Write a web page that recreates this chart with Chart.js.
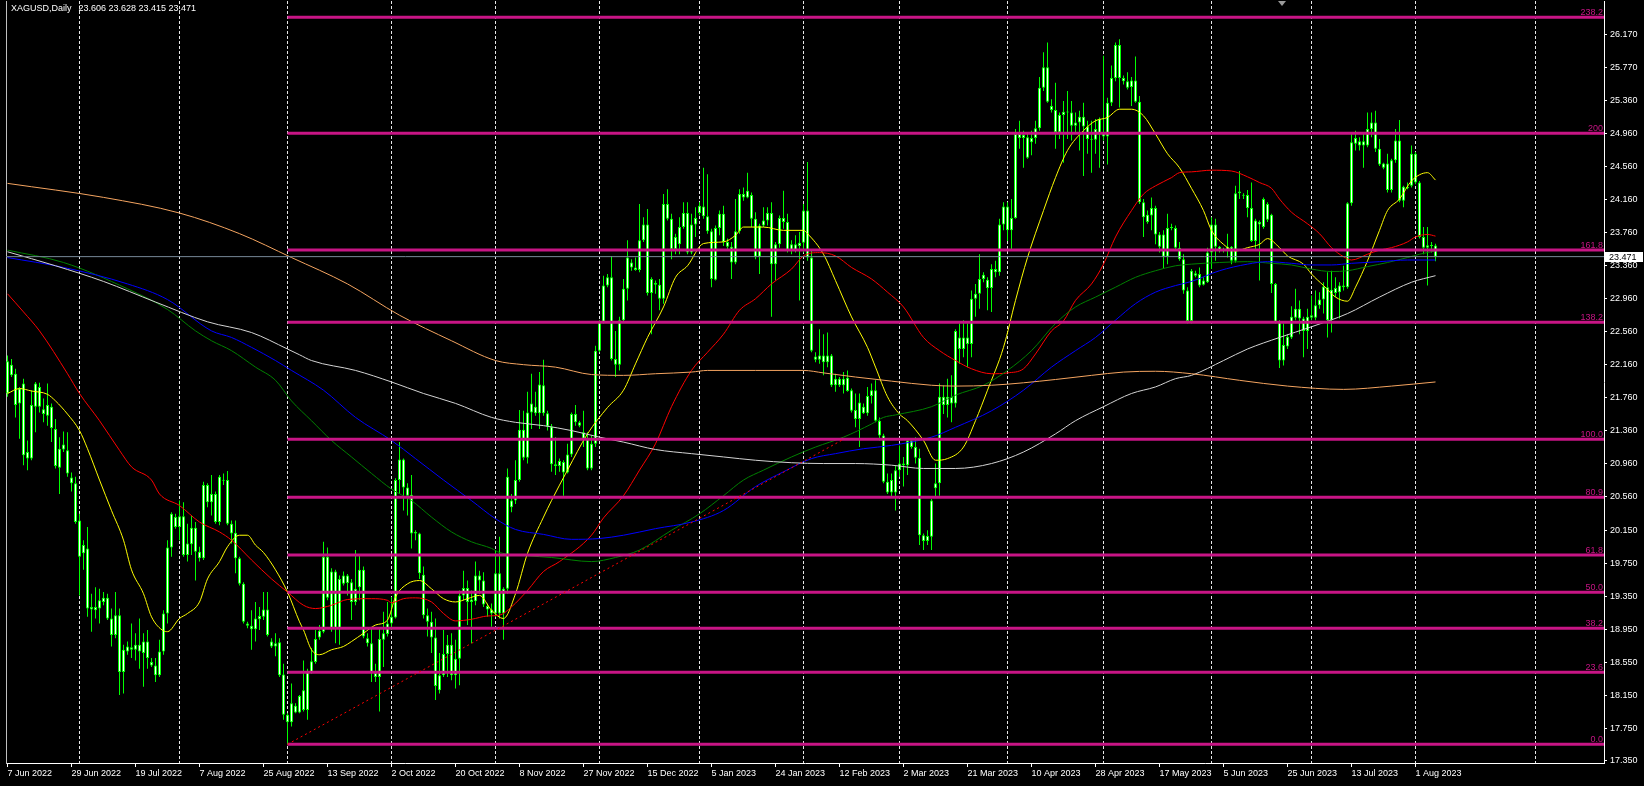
<!DOCTYPE html>
<html><head><meta charset="utf-8">
<script src="https://cdn.jsdelivr.net/npm/chart.js@4/dist/chart.umd.min.js"></script>
<style>html,body{margin:0;padding:0;background:#000;overflow:hidden}canvas{display:block}</style>
</head><body>
<canvas id="c" width="1644" height="786" style="width:1644px;height:786px"></canvas>
<script>
// ---------------- DATA ----------------
const symbolTitle = 'XAGUSD,Daily';
const lastBarOHLC = [23.606, 23.628, 23.415, 23.471];
const bidPrice = 23.471;

const opens = [21.81,22.16,22.05,21.69,21.93,21.10,21.02,21.65,21.89,21.62,
21.54,21.65,21.38,20.91,21.13,21.12,20.79,20.72,20.27,19.87,
19.93,19.22,19.18,19.20,19.28,19.33,19.08,18.88,19.12,18.43,
18.68,18.73,18.70,18.76,18.66,18.80,18.55,18.51,18.39,18.68,
19.14,19.94,20.31,20.19,20.32,19.85,19.98,20.18,19.89,19.81,
20.70,20.49,20.59,20.25,20.76,20.76,20.23,20.12,19.81,19.50,
19.02,18.99,18.95,19.07,19.10,19.19,18.80,18.74,18.79,18.40,
17.91,17.82,18.02,17.94,17.97,17.97,18.43,18.55,18.85,18.92,
19.83,19.65,18.95,19.56,19.50,19.60,19.52,19.28,19.46,19.67,
18.84,18.78,18.42,18.37,18.82,18.89,19.02,19.09,20.76,21.01,
20.67,20.58,20.11,20.11,19.61,19.12,19.04,18.85,18.21,18.39,
18.65,18.76,18.39,18.59,19.36,19.45,19.28,19.29,19.60,19.54,
19.23,19.19,19.14,19.63,19.14,19.44,20.51,20.51,20.76,21.37,
21.03,21.58,21.65,21.57,21.91,21.57,21.41,20.95,20.93,20.98,
20.85,21.07,21.56,21.46,21.34,21.26,20.90,21.20,22.33,22.68,
23.12,23.22,22.23,22.16,22.70,23.08,23.40,23.34,23.31,23.67,
23.86,23.03,23.15,23.13,22.96,24.11,23.93,23.56,23.62,23.83,
24.00,23.52,23.86,24.00,24.08,23.96,23.78,23.19,23.82,23.99,
23.65,23.59,23.40,23.78,24.23,24.19,24.22,23.93,23.47,23.85,
23.91,24.00,23.38,23.62,23.94,23.89,23.55,23.62,23.60,23.64,
24.03,23.46,22.26,22.22,22.27,22.19,22.27,21.91,21.99,21.91,
22.00,21.85,21.61,21.50,21.65,21.57,21.78,21.85,21.48,21.30,
20.74,20.61,20.61,20.88,20.96,20.94,21.24,21.16,21.03,20.09,
20.02,20.07,20.66,20.72,21.77,21.67,21.77,21.69,22.49,22.35,
22.49,22.41,22.96,23.02,23.20,23.19,23.09,23.32,23.28,23.86,
24.08,23.79,23.94,24.96,24.91,24.92,24.86,24.91,25.03,25.52,
25.77,25.30,25.25,24.98,25.19,25.23,25.22,25.06,25.10,25.17,
25.05,24.90,24.89,24.96,24.98,24.93,25.34,25.64,26.04,25.64,
25.60,25.53,25.61,25.35,24.13,23.98,23.97,24.06,23.74,23.74,
23.47,23.82,23.82,23.58,23.44,23.06,22.69,23.27,23.26,23.13,
23.16,23.52,23.86,23.59,23.55,23.54,23.59,23.42,24.24,24.22,
24.22,24.06,23.66,23.89,23.83,24.11,23.98,23.14,22.68,22.21,
22.38,22.49,22.73,22.84,22.72,22.57,22.73,22.73,22.88,22.95,
23.10,22.70,23.09,23.04,23.12,23.10,24.12,24.84,24.87,24.82,
24.82,25.02,25.10,24.78,24.60,24.60,24.28,24.64,24.88,24.15,
24.32,24.33,24.72,24.37,23.71,23.58,23.61,23.606];

const highs = [22.27,22.23,22.11,21.89,21.99,21.24,21.85,21.95,21.94,21.75,
21.93,21.69,21.50,21.28,21.35,21.34,20.85,20.80,20.35,20.03,
20.19,19.38,19.46,19.44,19.40,19.38,19.20,19.40,19.20,18.76,
18.80,19.02,18.90,19.08,18.90,18.94,18.60,18.60,18.82,19.18,
20.03,20.37,20.35,20.51,20.49,20.23,20.33,20.25,19.95,20.74,
20.72,20.82,20.62,20.82,20.84,20.87,20.27,20.27,19.83,19.52,
19.04,19.18,19.28,19.22,19.40,19.40,18.84,18.90,18.84,18.53,
17.93,18.29,18.05,18.15,18.57,18.47,18.72,18.94,19.00,20.01,
19.94,19.69,19.67,19.60,19.65,19.62,19.56,19.91,19.85,19.71,
18.90,18.96,18.53,18.96,19.16,19.28,19.34,20.78,21.22,21.02,
20.72,20.82,20.15,20.12,19.71,19.20,19.16,19.08,18.66,18.94,
18.88,18.90,18.82,19.42,19.66,19.54,19.42,19.77,19.66,19.64,
19.26,19.26,19.91,20.07,19.46,20.90,20.59,21.00,21.61,21.60,
21.83,22.05,21.83,22.07,22.22,21.60,21.44,21.28,21.02,21.00,
21.20,21.58,21.67,21.48,21.60,21.34,21.30,22.39,22.70,23.24,
23.26,23.48,22.57,22.74,23.20,23.67,23.44,23.46,24.11,23.95,
24.05,23.22,23.18,23.20,24.23,24.29,23.99,23.75,23.95,24.13,
24.13,23.99,24.07,24.13,24.55,24.47,23.81,23.85,24.03,24.09,
23.69,23.65,24.17,24.29,24.31,24.49,24.25,24.01,23.87,24.07,
24.07,24.13,23.65,23.97,24.27,23.99,23.67,23.73,23.77,24.11,
24.62,23.56,22.31,22.59,22.53,22.55,22.29,22.05,22.01,22.07,
22.09,21.87,21.81,21.81,21.69,21.89,21.93,21.97,21.52,21.32,
20.84,20.84,20.94,21.18,21.04,21.26,21.24,21.28,21.14,20.11,
20.15,20.53,20.96,21.93,21.91,21.99,22.03,22.59,22.66,22.70,
22.66,23.06,23.14,23.50,23.28,23.22,23.38,23.42,23.93,24.13,
24.13,24.17,25.02,25.12,25.00,24.98,25.00,25.12,25.65,25.95,
26.07,25.38,25.58,25.22,25.36,25.48,25.36,25.22,25.24,25.34,
25.12,25.12,25.14,25.16,25.91,25.40,25.79,26.07,26.11,25.67,
25.71,25.65,25.90,25.42,24.17,24.03,24.19,24.09,23.77,23.79,
23.99,23.87,23.85,23.65,23.50,23.10,23.32,23.30,23.34,23.22,
23.58,23.95,23.93,23.60,23.58,23.75,23.60,24.33,24.51,24.24,
24.28,24.37,23.93,23.91,24.19,24.13,23.99,23.15,22.70,22.66,
22.53,22.87,23.08,22.94,22.74,22.84,23.00,23.06,23.04,23.16,
23.28,23.30,23.22,23.16,23.36,24.13,24.98,25.00,24.92,24.98,
25.22,25.22,25.24,24.90,24.61,24.72,24.66,25.02,25.13,24.33,
24.37,24.82,24.74,24.39,23.83,23.83,23.65,23.628];

const lows = [21.77,22.01,21.52,21.26,20.94,20.88,21.00,21.34,21.58,21.46,
21.42,21.22,20.90,20.59,21.10,20.80,20.62,20.23,19.36,19.67,
19.10,18.92,19.08,19.02,19.24,19.06,18.74,18.84,18.15,18.17,
18.64,18.60,18.57,18.47,18.25,18.47,18.49,18.31,18.37,18.64,
19.02,19.83,20.17,20.03,19.83,19.77,19.85,19.54,19.77,19.79,
20.43,20.33,20.23,20.21,20.70,20.21,19.99,19.63,19.48,19.02,
18.96,18.70,18.80,18.94,19.06,18.86,18.72,18.62,18.37,17.85,
17.55,17.77,17.93,17.93,17.95,17.85,18.41,18.53,18.82,18.90,
19.30,18.92,18.78,18.76,19.48,19.36,19.06,19.24,19.30,18.84,
18.74,18.31,18.31,17.95,18.49,18.86,18.94,19.08,20.59,20.39,
20.33,19.93,20.03,19.56,19.08,18.86,18.66,18.09,18.17,18.37,
18.37,18.33,18.23,18.27,19.30,19.00,18.78,19.24,19.38,19.22,
19.10,18.98,19.10,19.08,18.82,19.38,20.37,20.47,20.74,21.00,
20.96,21.38,21.54,21.38,21.54,21.36,20.86,20.82,20.86,20.57,
20.84,21.04,21.42,21.40,21.16,20.88,20.88,21.16,22.31,22.66,
23.10,22.21,22.01,22.09,22.68,22.94,23.30,23.30,23.28,23.65,
23.00,22.53,23.02,22.82,22.90,23.91,23.44,23.50,23.50,23.81,
23.50,23.50,23.71,23.97,23.93,23.75,23.10,23.18,23.73,23.60,
23.54,23.20,23.38,23.75,24.15,24.18,23.83,23.44,23.26,23.83,
23.85,22.74,23.18,23.58,23.81,23.52,23.50,23.52,22.94,23.52,
23.42,22.31,22.19,22.17,22.03,22.13,21.89,21.83,21.89,21.81,
21.83,21.58,21.40,21.16,21.56,21.54,21.69,21.46,21.24,20.72,
20.59,20.55,20.39,20.80,20.68,20.82,21.14,20.96,19.97,19.91,
19.97,19.91,20.55,20.57,21.56,21.52,21.46,21.64,22.17,22.25,
22.13,22.25,22.74,22.84,23.16,22.82,22.80,23.22,23.24,23.79,
23.66,23.54,23.93,24.78,24.55,24.66,24.70,24.84,25.00,25.48,
25.34,25.22,24.78,24.90,24.61,24.90,24.88,24.96,24.76,24.45,
24.72,24.49,24.72,24.55,24.88,24.59,25.30,25.60,25.28,25.56,
25.50,25.30,25.34,24.11,23.71,23.87,23.79,23.62,23.52,23.32,
23.38,23.79,23.54,23.42,23.02,22.66,22.66,23.22,23.10,23.12,
23.15,23.32,23.42,23.52,23.52,23.46,23.38,23.40,24.17,24.17,
23.95,23.65,23.54,23.18,23.81,23.89,23.03,22.66,22.12,22.15,
22.35,22.47,22.70,22.53,22.25,22.35,22.70,22.70,22.84,22.78,
22.49,22.55,22.98,22.72,23.06,23.08,24.09,24.76,24.76,24.55,
24.80,24.92,24.74,24.57,24.53,24.25,24.25,24.61,24.13,24.07,
24.29,24.31,24.35,23.69,23.50,23.12,23.52,23.415];

const closes = [22.20,22.03,21.67,21.87,21.06,21.02,21.67,21.93,21.65,21.56,
21.67,21.39,20.93,21.14,21.19,20.84,20.72,20.25,19.83,19.97,
19.20,19.19,19.22,19.30,19.33,19.08,18.88,19.12,18.43,18.70,
18.74,18.70,18.76,18.68,18.80,18.60,18.51,18.39,18.68,19.14,
19.94,20.35,20.19,20.32,19.85,19.99,20.18,19.89,19.81,20.70,
20.49,20.59,20.25,20.80,20.75,20.23,20.11,19.81,19.50,19.04,
18.99,18.95,19.08,19.11,19.19,18.88,18.74,18.78,18.39,17.91,
17.82,18.05,17.94,18.14,18.21,18.43,18.56,18.83,18.93,19.83,
19.33,18.96,19.65,18.96,19.60,19.51,19.28,19.44,19.67,18.86,
18.78,18.42,18.37,18.83,18.90,19.02,19.10,20.76,21.01,20.67,
20.57,20.11,20.13,19.63,19.12,19.04,18.85,18.26,18.39,18.65,
18.76,18.39,18.59,19.36,19.45,19.28,19.31,19.60,19.54,19.25,
19.19,19.14,19.63,19.14,19.44,20.80,20.43,20.76,21.37,21.03,
21.58,21.69,21.57,21.92,21.57,21.41,20.95,20.93,20.99,20.85,
21.07,21.56,21.46,21.42,21.26,20.90,21.20,22.33,22.68,23.12,
23.22,22.23,22.16,22.70,23.08,23.46,23.34,23.31,23.67,23.86,
23.03,23.20,23.13,22.96,24.11,23.93,23.56,23.71,23.83,24.00,
23.52,23.86,23.94,24.09,23.96,23.78,23.20,23.82,23.99,23.65,
23.59,23.40,23.78,24.23,24.19,24.27,23.93,23.47,23.85,23.91,
24.00,23.38,23.62,23.94,23.89,23.55,23.62,23.55,23.64,24.03,
23.46,22.33,22.22,22.27,22.19,22.27,21.91,21.99,21.91,21.99,
21.84,21.60,21.50,21.70,21.57,21.78,21.85,21.48,21.30,20.74,
20.61,20.76,20.88,20.96,20.94,21.24,21.16,21.03,20.09,20.02,
20.08,20.51,20.72,21.77,21.67,21.77,21.69,22.57,22.35,22.49,
22.41,22.96,23.02,23.20,23.25,23.09,23.32,23.28,23.86,24.08,
23.79,23.94,24.96,24.91,24.95,24.67,24.91,25.03,25.52,25.77,
25.35,25.25,24.98,25.19,25.23,25.22,25.06,25.10,25.17,25.05,
24.90,24.89,25.02,25.14,24.93,25.34,25.64,26.04,25.64,25.60,
25.52,25.61,25.35,24.13,23.95,23.89,24.06,23.74,23.59,23.47,
23.82,23.83,23.58,23.44,23.06,22.69,23.30,23.24,23.12,23.18,
23.52,23.86,23.59,23.55,23.54,23.59,23.42,24.24,24.26,24.21,
24.06,23.66,23.91,23.86,24.17,23.92,23.14,22.68,22.21,22.40,
22.50,22.74,22.84,22.72,22.57,22.74,22.76,22.88,22.95,23.11,
22.70,23.07,23.03,23.12,23.10,24.12,24.86,24.91,24.82,24.87,
25.02,25.10,24.78,24.59,24.55,24.28,24.64,24.88,24.15,24.32,
24.30,24.72,24.37,23.71,23.58,23.61,23.60,23.471];

// moving averages: [bar index, price]
const maYellow = [[0,21.81],[3,21.87],[6,21.84],[10,21.80],[12,21.72],[15,21.56],[18,21.36],[20,21.14],[23,20.76],[26,20.39],[29,20.03],[31,19.67],[34,19.38],[36,19.10],[39,18.93],[40,18.92],[43,19.08],[45,19.14],[48,19.28],[50,19.56],[53,19.77],[55,19.95],[58,20.09],[60,20.09],[62,19.97],[64,19.88],[67,19.67],[70,19.40],[73,19.04],[74,18.94],[76,18.70],[78,18.64],[81,18.70],[84,18.74],[86,18.80],[89,18.90],[92,19.00],[95,19.06],[97,19.34],[100,19.50],[103,19.54],[106,19.44],[109,19.32],[112,19.28],[115,19.32],[118,19.36],[121,19.18],[124,19.08],[127,19.38],[130,19.87],[134,20.31],[136,20.51],[140,20.88],[145,21.32],[150,21.64],[154,21.85],[157,22.17],[160,22.49],[164,22.86],[167,23.22],[170,23.36],[174,23.63],[179,23.65],[182,23.73],[184,23.83],[189,23.83],[194,23.79],[199,23.79],[200,23.75],[204,23.50],[207,23.18],[211,22.74],[215,22.37],[217,22.13],[220,21.77],[223,21.56],[225,21.48],[229,21.24],[232,21.00],[235,21.02],[239,21.16],[242,21.48],[245,21.85],[249,22.37],[252,22.94],[255,23.46],[259,24.03],[262,24.43],[265,24.76],[269,25.00],[272,25.12],[275,25.16],[278,25.26],[281,25.26],[284,25.18],[287,24.96],[290,24.72],[293,24.55],[296,24.30],[299,24.03],[301,23.79],[304,23.62],[307,23.54],[310,23.58],[313,23.62],[315,23.69],[318,23.58],[320,23.48],[324,23.38],[326,23.26],[329,23.12],[332,22.98],[335,22.93],[337,23.10],[340,23.42],[343,23.79],[345,24.03],[348,24.17],[351,24.39],[355,24.49],[357,24.40]];
const maRed = [[0,23.02],[4,22.80],[8,22.57],[15,22.05],[18,21.81],[23,21.48],[28,21.12],[31,20.92],[36,20.76],[38,20.59],[43,20.45],[48,20.25],[53,20.13],[56,20.03],[61,19.79],[66,19.56],[70,19.40],[74,19.24],[77,19.20],[81,19.24],[85,19.31],[91,19.32],[95,19.30],[96,19.27],[99,19.32],[102,19.33],[106,19.28],[109,19.14],[112,19.05],[116,19.07],[120,19.11],[123,19.12],[126,19.22],[130,19.42],[134,19.65],[138,19.77],[146,20.09],[149,20.30],[154,20.57],[158,20.88],[162,21.20],[166,21.65],[171,22.09],[175,22.31],[179,22.53],[183,22.82],[187,22.96],[191,23.14],[196,23.32],[199,23.48],[203,23.52],[207,23.48],[211,23.34],[216,23.20],[220,23.04],[224,22.86],[229,22.49],[233,22.33],[237,22.21],[241,22.11],[246,22.05],[250,22.06],[254,22.11],[257,22.29],[261,22.57],[264,22.69],[267,22.94],[271,23.14],[274,23.38],[277,23.71],[281,24.03],[284,24.23],[287,24.33],[291,24.43],[293,24.49],[296,24.50],[301,24.52],[306,24.51],[310,24.44],[313,24.37],[316,24.30],[318,24.17],[321,24.01],[325,23.87],[328,23.75],[331,23.58],[334,23.47],[336,23.43],[340,23.50],[343,23.55],[346,23.58],[350,23.65],[352,23.71],[355,23.74],[357,23.72]];
const maGreen = [[0,23.55],[14,23.40],[30,23.08],[40,22.83],[47,22.57],[51,22.45],[56,22.33],[62,22.13],[67,21.97],[71,21.72],[76,21.48],[81,21.24],[86,21.04],[91,20.84],[96,20.65],[101,20.51],[106,20.31],[111,20.13],[116,20.01],[121,19.93],[123,19.88],[130,19.84],[136,19.82],[146,19.77],[152,19.82],[158,19.91],[166,20.15],[173,20.35],[179,20.57],[184,20.76],[189,20.88],[196,21.04],[202,21.16],[209,21.28],[216,21.44],[219,21.52],[222,21.55],[231,21.65],[237,21.79],[244,21.91],[250,22.09],[256,22.33],[262,22.66],[267,22.86],[272,22.98],[277,23.10],[282,23.22],[287,23.30],[292,23.36],[296,23.38],[303,23.40],[310,23.41],[316,23.39],[321,23.37],[326,23.32],[331,23.29],[335,23.30],[340,23.35],[345,23.40],[350,23.46],[353,23.50],[357,23.54]];
const maBlue = [[0,23.46],[14,23.34],[30,23.14],[40,22.95],[51,22.57],[56,22.49],[61,22.37],[67,22.21],[71,22.09],[79,21.85],[87,21.52],[96,21.24],[102,21.02],[109,20.76],[116,20.51],[122,20.29],[127,20.16],[134,20.10],[141,20.04],[148,20.05],[154,20.09],[162,20.17],[171,20.25],[179,20.39],[187,20.68],[194,20.86],[201,21.02],[207,21.08],[214,21.14],[221,21.18],[231,21.28],[237,21.40],[246,21.60],[254,21.85],[261,22.13],[267,22.33],[272,22.49],[277,22.70],[282,22.90],[287,23.04],[292,23.12],[296,23.17],[303,23.30],[310,23.38],[315,23.41],[321,23.39],[326,23.37],[331,23.37],[336,23.39],[343,23.41],[350,23.43],[357,23.43]];
const maSilver = [[0,23.53],[12,23.36],[24,23.17],[37,22.92],[50,22.68],[61,22.55],[70,22.35],[73,22.28],[76,22.21],[87,22.09],[96,21.95],[104,21.81],[112,21.69],[121,21.52],[127,21.46],[134,21.42],[141,21.36],[148,21.28],[154,21.22],[162,21.13],[171,21.08],[179,21.04],[187,21.00],[196,20.97],[204,20.96],[212,20.96],[221,20.94],[229,20.90],[237,20.90],[246,20.96],[254,21.10],[262,21.32],[267,21.48],[274,21.65],[281,21.81],[287,21.89],[292,21.99],[296,22.03],[304,22.21],[310,22.35],[318,22.49],[326,22.62],[335,22.78],[343,22.98],[351,23.16],[357,23.24]];
const maOrange = [[0,24.36],[24,24.19],[43,24.00],[58,23.75],[71,23.46],[85,23.14],[98,22.76],[111,22.45],[122,22.21],[129,22.16],[137,22.13],[146,22.04],[154,22.03],[162,22.05],[171,22.07],[175,22.09],[187,22.09],[199,22.09],[204,22.06],[212,22.01],[221,21.96],[231,21.91],[237,21.90],[246,21.91],[254,21.94],[262,21.98],[271,22.03],[279,22.07],[287,22.08],[296,22.05],[308,21.97],[320,21.90],[334,21.86],[346,21.90],[357,21.95]];

// Fibonacci retracement object
const fibLevelNames = ['0.0','23.6','38.2','50.0','61.8','80.9','100.0','138.2','161.8','200','238.2'];
const fibLevelPrices = [17.553,18.426,18.960,19.397,19.850,20.550,21.254,22.674,23.551,24.968,26.376];
const fibStartIdx = 70;
const fibTrendStart = [70, 17.553];
const fibTrendEnd = [209, 21.254];

// axes
const yTickValues = [26.170,25.770,25.360,24.960,24.560,24.160,23.760,23.360,22.960,22.560,22.160,21.760,21.360,20.960,20.560,20.150,19.750,19.350,18.950,18.550,18.150,17.750,17.350];
const xLabelIdx = [0,16,32,48,64,80,96,112,128,144,160,176,192,208,224,240,256,272,288,304,320,336,352];
const xLabelText = ['7 Jun 2022','29 Jun 2022','19 Jul 2022','7 Aug 2022','25 Aug 2022','13 Sep 2022','2 Oct 2022','20 Oct 2022','8 Nov 2022','27 Nov 2022','15 Dec 2022','5 Jan 2023','24 Jan 2023','12 Feb 2023','2 Mar 2023','21 Mar 2023','10 Apr 2023','28 Apr 2023','17 May 2023','5 Jun 2023','25 Jun 2023','13 Jul 2023','1 Aug 2023'];
const monthStartIdx = [18,43,70,96,122,148,173,199,223,250,274,301,326,352,382];
const chartShiftIdx = 318.5;

// ---------------- VIEW ----------------
const X_MIN = -0.375, X_MAX = 399.125;
const Y_MIN = 17.3257, Y_MAX = 26.5734;
const FONT = 'Liberation Sans';
const FIB_COLOR = '#c71585';

Chart.defaults.font.family = FONT;
Chart.defaults.font.size = 9;
Chart.defaults.color = '#ffffff';

const idx = closes.map((_, i) => i);
const wickData = idx.map(i => ({x: i, y: [lows[i], highs[i]]}));
const bodyData = idx.map(i => ({x: i, y: [opens[i], closes[i]]}));
const toXY = arr => arr.map(p => ({x: p[0], y: p[1]}));

const maLine = (data, color) => ({
  type: 'line', data: toXY(data), borderColor: color, borderWidth: 1, pointRadius: 0,
  fill: false, cubicInterpolationMode: 'monotone', order: 10, xAxisID: 'x', yAxisID: 'y'
});

const datasets = [
  {type: 'bar', data: wickData, backgroundColor: '#00ff00', borderWidth: 0, barThickness: 1,
   grouped: false, inflateAmount: 0, order: 20, xAxisID: 'x', yAxisID: 'y'},
  {type: 'bar', data: bodyData, backgroundColor: '#ffffff', borderColor: '#00ff00', borderWidth: 1,
   borderSkipped: false, barThickness: 3, minBarLength: 1, grouped: false, inflateAmount: 0, order: 19, xAxisID: 'x', yAxisID: 'y'},
  maLine(maOrange, '#f4a460'),
  maLine(maSilver, '#d3d3d3'),
  maLine(maBlue, '#0000ff'),
  maLine(maGreen, '#008000'),
  maLine(maRed, '#ff0000'),
  maLine(maYellow, '#ffff00'),
];
fibLevelPrices.forEach(p => datasets.push({
  type: 'line', data: [{x: fibStartIdx, y: p}, {x: X_MAX, y: p}], borderColor: FIB_COLOR, borderWidth: 3,
  pointRadius: 0, fill: false, order: 5, xAxisID: 'x', yAxisID: 'y'
}));
datasets.push({type: 'line', data: [{x: fibTrendStart[0], y: fibTrendStart[1]}, {x: fibTrendEnd[0], y: fibTrendEnd[1]}],
  borderColor: '#ff0000', borderWidth: 1, borderDash: [2, 3], pointRadius: 0, fill: false, order: 4, xAxisID: 'x', yAxisID: 'y'});
datasets.push({type: 'line', data: [{x: X_MIN, y: bidPrice}, {x: X_MAX, y: bidPrice}],
  borderColor: '#778899', borderWidth: 1, pointRadius: 0, fill: false, order: 3, xAxisID: 'x', yAxisID: 'y'});

const overlay = {
  id: 'overlay',
  beforeDraw(chart) {
    const c = chart.ctx; c.save(); c.fillStyle = '#000'; c.fillRect(0, 0, chart.width, chart.height); c.restore();
  },
  afterDatasetsDraw(chart) {
    const {ctx, chartArea, scales: {y}} = chart;
    ctx.save();
    ctx.font = '9px "' + FONT + '"';
    ctx.fillStyle = FIB_COLOR; ctx.textAlign = 'right'; ctx.textBaseline = 'alphabetic';
    fibLevelPrices.forEach((p, k) => {
      ctx.fillText(fibLevelNames[k], chartArea.right - 1, Math.round(y.getPixelForValue(p)) - 2);
    });
    ctx.restore();
  },
  afterDraw(chart) {
    const {ctx, chartArea, scales: {x, y}} = chart;
    ctx.save();
    ctx.font = '9px "' + FONT + '"';
    ctx.textBaseline = 'middle'; ctx.textAlign = 'left'; ctx.fillStyle = '#ffffff';
    ctx.fillText(symbolTitle, 11, 9);
    const w = ctx.measureText(symbolTitle).width;
    ctx.fillText(lastBarOHLC.map(v => v.toFixed(3)).join(' '), 11 + w + 7, 9);
    const py = Math.round(y.getPixelForValue(bidPrice));
    ctx.fillStyle = '#ffffff';
    ctx.fillRect(chartArea.right + 1, py - 5, 38, 10);
    ctx.fillStyle = '#000000';
    ctx.fillText(bidPrice.toFixed(3), chartArea.right + 5, py + 0.5);
    // chart-shift marker
    const sx = Math.round(x.getPixelForValue(chartShiftIdx));
    ctx.fillStyle = '#9a9a9a';
    ctx.beginPath(); ctx.moveTo(sx - 4, chartArea.top); ctx.lineTo(sx + 4, chartArea.top); ctx.lineTo(sx, chartArea.top + 5); ctx.closePath(); ctx.fill();
    ctx.restore();
  }
};

const noPad = s => { s.paddingTop = 0; s.paddingBottom = 0; s.paddingLeft = 0; s.paddingRight = 0; };

new Chart(document.getElementById('c'), {
  type: 'bar',
  data: {datasets},
  options: {
    responsive: false, animation: false, devicePixelRatio: 1, events: [],
    layout: {padding: {top: 1, left: 0, right: 0, bottom: 0}},
    plugins: {legend: {display: false}, tooltip: {enabled: false}},
    scales: {
      x: {
        type: 'linear', position: 'bottom', min: X_MIN, max: X_MAX, offset: false,
        grid: {display: true, drawOnChartArea: false, drawTicks: true, tickLength: 4, color: '#ffffff', offset: false},
        border: {display: true, color: '#ffffff', width: 1},
        ticks: {autoSkip: false, maxRotation: 0, minRotation: 0, align: 'start', padding: 1, color: '#ffffff',
          font: {size: 9, family: FONT},
          callback: v => { const k = xLabelIdx.indexOf(v); return k >= 0 ? xLabelText[k] : ''; }},
        afterBuildTicks: s => { s.ticks = xLabelIdx.map(v => ({value: v})); },
        afterFit: s => { s.height = 23; noPad(s); }
      },
      xg: {
        type: 'linear', position: 'top', min: X_MIN, max: X_MAX, offset: false,
        grid: {display: true, drawOnChartArea: true, drawTicks: false, color: '#e6e6e6', lineWidth: 1, offset: false},
        border: {display: false, dash: [3, 2]},
        ticks: {display: false},
        afterBuildTicks: s => { s.ticks = monthStartIdx.map(v => ({value: v})); },
        afterFit: s => { s.height = 0; noPad(s); }
      },
      y: {
        type: 'linear', position: 'right', min: Y_MIN, max: Y_MAX,
        grid: {display: true, drawOnChartArea: false, drawTicks: true, tickLength: 3, color: '#ffffff'},
        border: {display: true, color: '#ffffff', width: 1},
        ticks: {padding: 3, color: '#ffffff', font: {size: 9, family: FONT}, callback: v => Number(v).toFixed(3)},
        afterBuildTicks: s => { s.ticks = yTickValues.map(v => ({value: v})); },
        afterFit: s => { s.width = 40; noPad(s); }
      },
      yl: {
        type: 'linear', position: 'left', display: true,
        grid: {display: false}, ticks: {display: false},
        border: {display: true, color: '#bfbfbf', width: 1},
        afterFit: s => { s.width = 6; noPad(s); }
      }
    }
  },
  plugins: [overlay]
});
</script>
</body></html>
